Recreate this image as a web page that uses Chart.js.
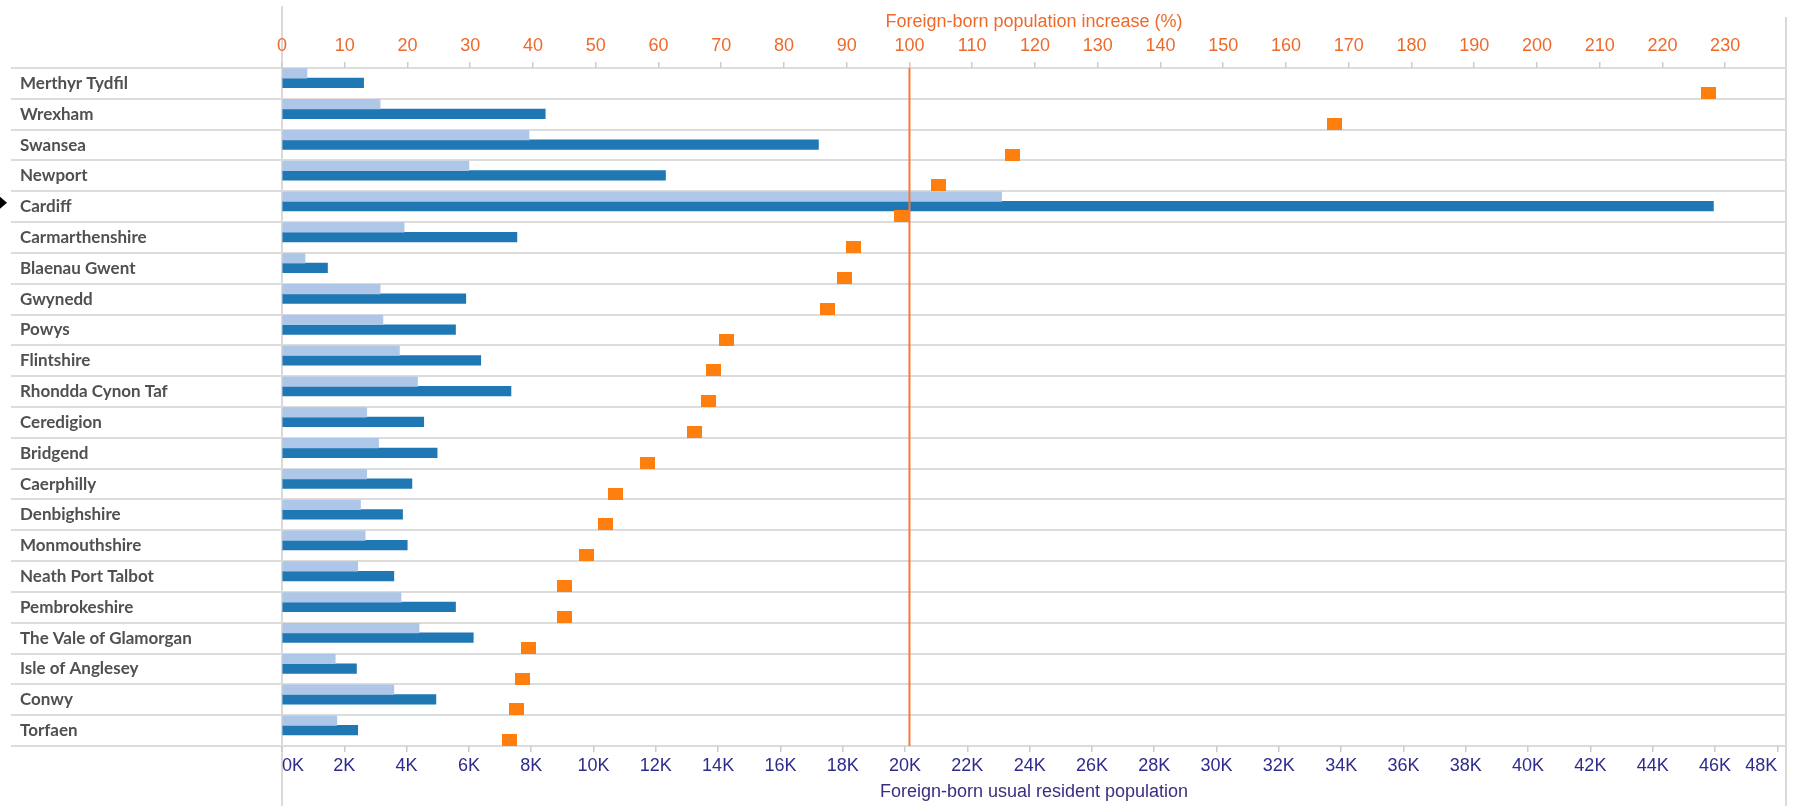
<!DOCTYPE html>
<html>
<head>
<meta charset="utf-8">
<script src="https://cdn.jsdelivr.net/npm/chart.js@4.4.1/dist/chart.umd.min.js"></script>
<style>
  html, body { margin: 0; padding: 0; background: #fff; }
  #wrap { width: 1800px; height: 806px; }
</style>
</head>
<body>
<div id="wrap"><canvas id="chart" width="1800" height="806"></canvas></div>
<script>
// Welsh local authorities, sorted by % increase
const districts = [
    'Merthyr Tydfil', 'Wrexham', 'Swansea', 'Newport', 'Cardiff', 'Carmarthenshire',
    'Blaenau Gwent', 'Gwynedd', 'Powys', 'Flintshire', 'Rhondda Cynon Taf', 'Ceredigion',
    'Bridgend', 'Caerphilly', 'Denbighshire', 'Monmouthshire', 'Neath Port Talbot',
    'Pembrokeshire', 'The Vale of Glamorgan', 'Isle of Anglesey', 'Conwy', 'Torfaen'
];

// foreign-born usual residents, earlier census (light bars)
const popEarlier = [
    800, 3150, 7930, 6000, 23100, 3920,
    740, 3150, 3240, 3770, 4350, 2720,
    3100, 2720, 2520, 2670, 2430,
    3820, 4400, 1710, 3590, 1760
];

// foreign-born usual residents, later census (dark bars)
const popLater = [
    2620, 8450, 17220, 12310, 45950, 7540,
    1460, 5900, 5570, 6380, 7350, 4550,
    4980, 4170, 3870, 4020, 3590,
    5570, 6140, 2390, 4940, 2430
];

// increase in %, orange squares
const increasePct = [
    227.3, 167.8, 116.4, 104.7, 98.8, 91.1,
    89.6, 87.0, 70.9, 68.8, 67.9, 65.7,
    58.3, 53.2, 51.6, 48.5, 45.1,
    45.1, 39.3, 38.3, 37.4, 36.2
];

const referencePct = 100;
const selectedDistrict = 'Cardiff';

const popTicks = [0, 2000, 4000, 6000, 8000, 10000, 12000, 14000, 16000, 18000, 20000, 22000,
    24000, 26000, 28000, 30000, 32000, 34000, 36000, 38000, 40000, 42000, 44000, 46000, 48000];
const pctTicks = [0, 10, 20, 30, 40, 50, 60, 70, 80, 90, 100, 110, 120,
    130, 140, 150, 160, 170, 180, 190, 200, 210, 220, 230];

const rows = districts.length;
const barShift = 0.17;     // bars sit in the upper part of each row
const markerShift = 0.31;  // squares sit in the lower part

function markerImage(w, h, color) {
    const c = document.createElement('canvas');
    c.width = w;
    c.height = h;
    const g = c.getContext('2d');
    g.fillStyle = color;
    g.fillRect(0, 0, w, h);
    return c;
}

// hidden row axis; a positive shift moves its marks down inside the row
function rowAxis(shift) {
    return {
        type: 'linear',
        display: false,
        reverse: true,
        offset: false,
        bounds: 'data',
        grace: 0,
        min: -0.5 - shift,
        max: rows - 0.5 - shift,
        afterDataLimits(s) {
            s.min = -0.5 - shift;
            s.max = rows - 0.5 - shift;
        }
    };
}

const paneLines = {
    id: 'paneLines',
    beforeDraw(chart) {
        const { ctx, chartArea: a } = chart;
        ctx.save();
        ctx.strokeStyle = '#d9d9d9';
        ctx.lineWidth = 2;
        ctx.beginPath();
        ctx.moveTo(a.left, 6);
        ctx.lineTo(a.left, chart.height);
        ctx.moveTo(a.right, 17);
        ctx.lineTo(a.right, chart.height);
        ctx.stroke();
        ctx.restore();
    },
    afterDatasetsDraw(chart) {
        const { ctx, chartArea: a, scales } = chart;
        const x = scales.x2.getPixelForValue(referencePct);
        ctx.save();
        ctx.strokeStyle = '#f8783a';
        ctx.lineWidth = 2;
        ctx.beginPath();
        ctx.moveTo(x, a.top);
        ctx.lineTo(x, a.bottom);
        ctx.stroke();

        const y = scales.y.getPixelForValue(districts.indexOf(selectedDistrict)) - 4;
        ctx.fillStyle = '#000';
        ctx.beginPath();
        ctx.moveTo(0, y - 6);
        ctx.lineTo(7, y);
        ctx.lineTo(0, y + 6);
        ctx.closePath();
        ctx.fill();
        ctx.restore();
    }
};

Chart.defaults.font.family = 'Liberation Sans';

new Chart(document.getElementById('chart'), {
    type: 'bar',
    data: {
        labels: districts,
        datasets: [
            {
                type: 'line',
                label: 'Increase (%)',
                data: increasePct.map((v, i) => ({ x: v, y: i })),
                xAxisID: 'x2',
                yAxisID: 'yMark',
                showLine: false,
                pointStyle: markerImage(15, 12, '#ff7f0e'),
                pointRadius: 7,
                order: 0
            },
            {
                label: 'Earlier',
                data: popEarlier.map((v, i) => ({ x: v, y: i })),
                xAxisID: 'x',
                yAxisID: 'yBar',
                backgroundColor: '#aec7e8',
                barThickness: 9.6,
                order: 1
            },
            {
                label: 'Later',
                data: popLater.map((v, i) => ({ x: v, y: i })),
                xAxisID: 'x',
                yAxisID: 'yBar',
                backgroundColor: '#1f77b4',
                barThickness: 9.6,
                order: 1
            }
        ]
    },
    options: {
        indexAxis: 'y',
        responsive: false,
        animation: false,
        devicePixelRatio: 1,
        layout: { padding: { left: 20, right: 14, top: 0, bottom: 0 } },
        plugins: {
            legend: { display: false },
            tooltip: { enabled: false }
        },
        scales: {
            y: {
                type: 'category',
                labels: districts,
                position: 'left',
                offset: true,
                grid: { offset: true, color: '#dcdcdc', lineWidth: 2, tickLength: 271 },
                border: { display: false },
                ticks: {
                    crossAlign: 'far',
                    color: '#505050',
                    padding: 0,
                    autoSkip: false,
                    font: { family: 'Lato', size: 17, weight: 'bold' }
                },
                afterFit(s) { s.width = 262; }
            },
            yBar: rowAxis(-barShift),
            yMark: rowAxis(markerShift),
            x: {
                type: 'linear',
                position: 'bottom',
                min: 0,
                max: 48280,
                afterBuildTicks(s) { s.ticks = popTicks.map(v => ({ value: v })); },
                grid: { drawOnChartArea: false, tickLength: 6, color: '#cccccc', lineWidth: 1.5 },
                border: { display: false },
                ticks: {
                    callback: v => (v / 1000) + 'K',
                    color: '#2e2b8c',
                    padding: 3,
                    align: 'inner',
                    maxRotation: 0,
                    autoSkip: false,
                    font: { size: 18 }
                },
                title: {
                    display: true,
                    text: 'Foreign-born usual resident population',
                    color: '#3b2e80',
                    font: { size: 18 },
                    padding: { top: 0, bottom: 3 }
                },
                afterFit(s) { s.height = 60; }
            },
            x2: {
                type: 'linear',
                position: 'top',
                min: 0,
                max: 239.7,
                afterBuildTicks(s) { s.ticks = pctTicks.map(v => ({ value: v })); },
                grid: { drawOnChartArea: false, tickLength: 6, color: '#cccccc', lineWidth: 1.5 },
                border: { display: false },
                ticks: {
                    color: '#ee6a2b',
                    padding: 5,
                    maxRotation: 0,
                    autoSkip: false,
                    font: { size: 18 }
                },
                title: {
                    display: true,
                    text: 'Foreign-born population increase (%)',
                    color: '#ee6a2b',
                    font: { size: 18 },
                    padding: { top: 11, bottom: 0 }
                },
                afterFit(s) { s.height = 68; }
            }
        }
    },
    plugins: [paneLines]
});
</script>
</body>
</html>
